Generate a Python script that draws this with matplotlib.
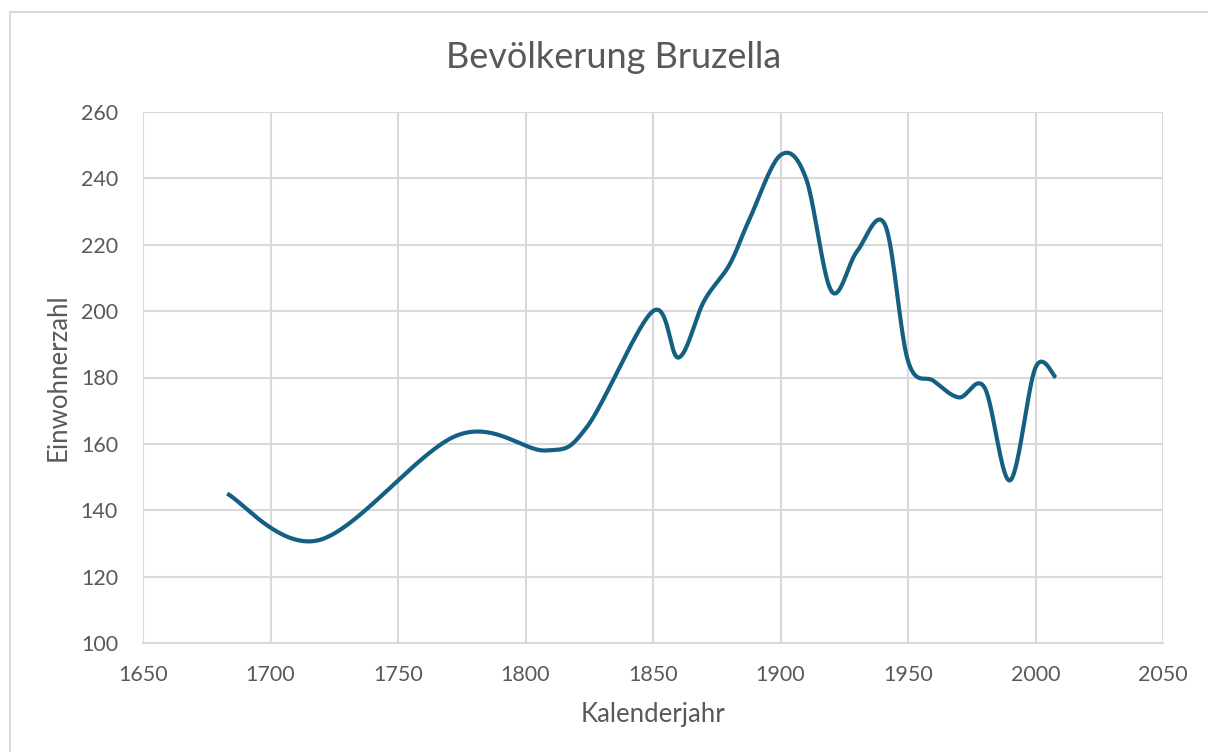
import matplotlib
matplotlib.use("Agg")
import matplotlib.pyplot as plt
from matplotlib.patches import Rectangle
import numpy as np

plt.rcParams["font.family"] = ["Lato", "DejaVu Sans"]

YEARS = [1683, 1719, 1773, 1808, 1824, 1850, 1860, 1870, 1880, 1888, 1900, 1910,
         1920, 1930, 1941, 1950, 1960, 1970, 1980, 1990, 2000, 2008]
POP = [145, 131, 162.5, 158, 165, 200, 186, 203, 214, 228, 247, 240,
       206, 218, 226, 185, 179, 174, 177, 149, 183, 180]

LINE = "#156082"
GRID = "#d9d9d9"
TXT = "#595959"


def smooth(xs, ys, n=40):
    # Excel-artige Glättung: Bezier mit Kontrollpunkten P1 + (P2 - P0)/6
    p = np.column_stack([xs, ys]).astype(float)
    p = np.vstack([p[0], p, p[-1]])
    out = []
    for i in range(1, len(p) - 2):
        p0, p1, p2, p3 = p[i - 1], p[i], p[i + 1], p[i + 2]
        b1 = p1 + (p2 - p0) / 6
        b2 = p2 - (p3 - p1) / 6
        t = np.linspace(0, 1, n)[:, None]
        seg = ((1 - t) ** 3) * p1 + 3 * ((1 - t) ** 2) * t * b1 + 3 * (1 - t) * t ** 2 * b2 + t ** 3 * p2
        out.append(seg if i == 1 else seg[1:])
    c = np.vstack(out)
    return c[:, 0], c[:, 1]


fig = plt.figure(figsize=(12.08, 7.52), dpi=100)
ax = fig.add_axes([143 / 1208, 1 - 643 / 752, 1020 / 1208, 531 / 752])

fig.patches.append(Rectangle((10 / 1208, -0.1), 1.2, 1 - 12 / 752 + 0.1, transform=fig.transFigure,
                             fill=False, edgecolor=GRID, linewidth=1.5))

sx, sy = smooth(YEARS, POP)
ax.plot(sx, sy, color=LINE, linewidth=3, solid_capstyle="butt", zorder=3)

ax.set_xlim(1650, 2050)
ax.set_ylim(100, 260)
ax.set_xticks(np.arange(1650, 2051, 50))
ax.set_yticks(np.arange(100, 261, 20))
ax.grid(color=GRID, linewidth=1.5, zorder=0)
for s in ["top", "right", "left"]:
    ax.spines[s].set_visible(False)
ax.spines["bottom"].set_color(GRID)
ax.spines["bottom"].set_linewidth(1.5)
ax.tick_params(length=0, labelsize=15.5, colors=TXT)
ax.tick_params(axis="x", pad=16)
ax.tick_params(axis="y", pad=18)

ax.set_xlabel("Kalenderjahr", fontsize=18.5, color=TXT, labelpad=12)
ax.set_ylabel("Einwohnerzahl", fontsize=18.5, color=TXT, labelpad=7)
fig.text(614 / 1208, 1 - 57 / 752, "Bevölkerung Bruzella", ha="center", va="center",
         fontsize=26, color=TXT)

fig.savefig("out.png", dpi=100)
